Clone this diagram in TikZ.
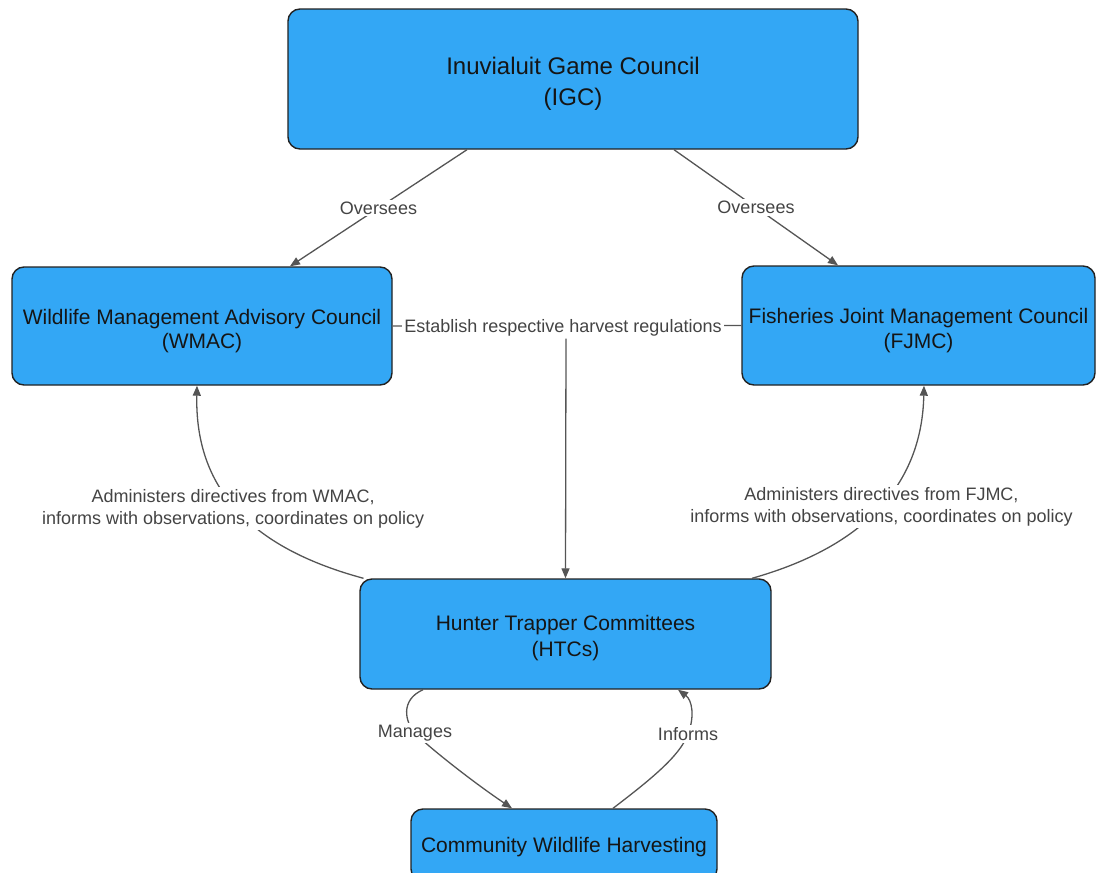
\documentclass[tikz,border=0pt]{standalone}
\usepackage{fontspec}
\setmainfont{Liberation Sans}
\usetikzlibrary{arrows.meta}
\definecolor{boxblue}{HTML}{33A7F5}
\definecolor{boxline}{HTML}{222222}
\definecolor{edgecol}{HTML}{555555}
\definecolor{labcol}{HTML}{444444}
\definecolor{nodetext}{HTML}{151515}
\begin{document}
\begin{tikzpicture}[x=1pt,y=-1pt,
  box/.style={draw=boxline, line width=1.4pt, fill=boxblue, rounded corners=12pt,
    inner sep=0pt},
  btext/.style={inner sep=0pt, align=center, text=nodetext, yshift=-5pt,
    font=\fontsize{21}{24.5}\selectfont},
  elabel/.style={fill=white, inner sep=2pt, align=center, text=labcol,
    font=\fontsize{18}{22}\selectfont},
  conn/.style={draw=edgecol, line width=1.3pt},
  arr/.style={conn, -{Triangle[length=10pt,width=8pt]}}]
\useasboundingbox (0,0) rectangle (1096,873);
\clip (0,0) rectangle (1096,873);

\node[box, minimum width=570pt, minimum height=140pt,
  label={[btext, font=\fontsize{24}{31}\selectfont]center:{Inuvialuit Game Council\\(IGC)}}]
  (igc) at (573,79) {};
\node[box, minimum width=380pt, minimum height=118pt,
  label={[btext]center:{Wildlife Management Advisory Council\\(WMAC)}}]
  (wmac) at (202,326) {};
\node[box, minimum width=353pt, minimum height=119pt,
  label={[btext]center:{Fisheries Joint Management Council\\(FJMC)}}]
  (fjmc) at (918.5,325.5) {};
\node[box, minimum width=411pt, minimum height=110pt,
  label={[btext, yshift=0.5pt, font=\fontsize{21}{26}\selectfont]center:{Hunter Trapper Committees\\(HTCs)}}]
  (htc) at (565.5,634) {};
\node[box, minimum width=306pt, minimum height=72pt,
  label={[btext, yshift=3pt]center:{Community Wildlife Harvesting}}]
  (cwh) at (564,845) {};

% Oversees
\draw[arr] ([xshift=-106pt]igc.south) -- node[elabel] {Oversees} ([xshift=88pt]wmac.north);
\draw[arr] ([xshift=101pt]igc.south) -- node[elabel] {Oversees} ([xshift=-80.5pt]fjmc.north);

% Establish regulations
\draw[conn] (wmac.east) -- (fjmc.west);
\node[elabel] (est) at (563,328) {Establish respective harvest regulations};
\coordinate (estb) at ([xshift=3pt]est.south);
\draw[arr] (estb) -- (htc.north);

% HTC <-> WMAC / FJMC
\coordinate (h1) at ([xshift=-202pt]htc.north);
\coordinate (w1) at ([xshift=-5pt]wmac.south);
\draw[arr] (h1) .. controls (240,545) and (195,480) .. (w1)
  node[elabel, pos=0.5, yshift=-4pt] {Administers directives from WMAC,\\informs with observations, coordinates on policy};
\coordinate (h2) at ([xshift=186.5pt]htc.north);
\coordinate (f1) at ([xshift=5.5pt]fjmc.south);
\draw[arr] (h2) .. controls (870,545) and (922,480) .. (f1)
  node[elabel, pos=0.5, yshift=-2pt] {Administers directives from FJMC,\\informs with observations, coordinates on policy};

% HTC <-> CWH
\coordinate (h3) at ([xshift=-142.5pt]htc.south);
\coordinate (c1) at ([xshift=-52pt]cwh.north);
\coordinate (m1) at (415,733);
\draw[arr] (h3) .. controls (400,700) and (405,722) .. (m1)
  .. controls (425,744) and (470,780) .. (c1);
\node[elabel] at (m1) {Manages};
\coordinate (c2) at ([xshift=49pt]cwh.north);
\coordinate (h4) at ([xshift=112.5pt]htc.south);
\coordinate (m2) at (688,734);
\draw[arr] (c2) .. controls (650,780) and (680,756) .. (m2)
  .. controls (695,716) and (692,700) .. (h4);
\node[elabel] at (m2) {Informs};
\end{tikzpicture}
\end{document}
